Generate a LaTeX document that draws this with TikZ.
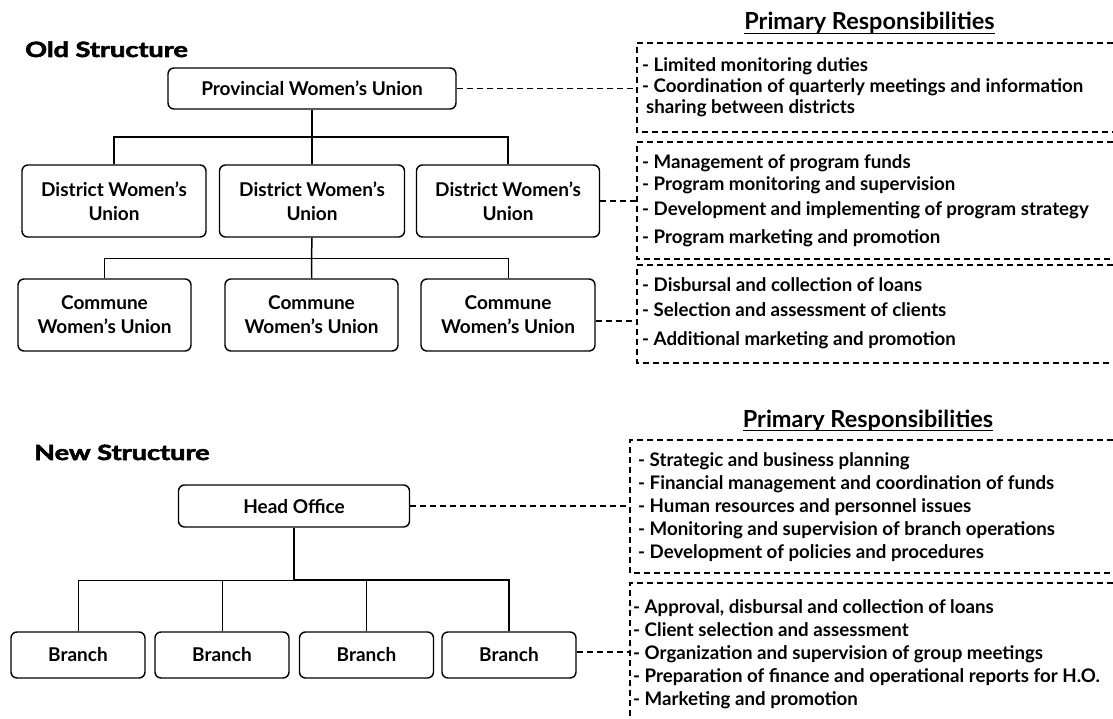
\documentclass[tikz,border=0pt]{standalone}
\usepackage{fontspec}
\setmainfont{Lato}
\newfontfamily\heavyfont{Lato}[BoldFeatures={FakeBold=2.5}]
\begin{document}
\begin{tikzpicture}[x=1pt,y=-1pt,
  orgbox/.style={draw, line width=1.4pt, rounded corners=6pt, inner sep=0pt, align=center,
    font=\fontsize{19}{24}\selectfont\bfseries},
  tree/.style={line width=1.5pt},
  thintree/.style={line width=0.9pt},
  dashlink/.style={line width=1.8pt, dash pattern=on 6pt off 4pt},
  resp/.style={anchor=base west, inner sep=0pt, font=\fontsize{18.7}{21}\selectfont\bfseries},
  heading/.style={anchor=base west, inner sep=0pt, font=\fontsize{21}{24}\heavyfont\bfseries},
  ptitle/.style={anchor=base, inner sep=0pt, font=\fontsize{23.5}{26}\selectfont\bfseries}]
\useasboundingbox (0,0) rectangle (1113,719);

% ---------------- Old structure ----------------
\node[heading] (oldh) at (25,57) {\scalebox{1.29}[1]{Old Structure}};

\node[orgbox, minimum width=288pt, minimum height=41pt] (prov) at (312,88.5) {Provincial Women’s Union};

\node[orgbox, minimum width=184pt, minimum height=72pt] (dist1) at (114,201) {District Women’s\\Union};
\node[orgbox, minimum width=185pt, minimum height=72pt] (dist2) at (312,201) {District Women’s\\Union};
\node[orgbox, minimum width=183pt, minimum height=72pt] (dist3) at (508,201) {District Women’s\\Union};

\node[orgbox, minimum width=173pt, minimum height=72pt] (com1) at (104.5,315) {Commune\\Women’s Union};
\node[orgbox, minimum width=173pt, minimum height=72pt] (com2) at (311.5,315) {Commune\\Women’s Union};
\node[orgbox, minimum width=174pt, minimum height=72pt] (com3) at (508,315) {Commune\\Women’s Union};

\coordinate (j1) at (312,137);
\draw[tree] (prov.south) -- (j1) -- (dist2.north);
\draw[tree] (dist1.north) |- (j1);
\draw[tree] (dist3.north) |- (j1);

\coordinate (j2) at (311.5,258);
\draw[tree] (dist2.south) -- (j2) -- (com2.north);
\draw[thintree] (com1.north) |- (j2);
\draw[thintree] (com3.north) |- (j2);

% responsibility title
\node[ptitle] (pr1) at (869.5,30) {Primary Responsibilities};
\draw[line width=1.5pt] ([yshift=-3.5pt]pr1.base west) -- ([yshift=-3.5pt]pr1.base east);

% dashed frames
\draw[dashlink] (1113,43) -- (637,43) -- (637,132) -- (1113,132);
\draw[dashlink] (1113,142) -- (637,142) -- (637,259) -- (1113,259);
\draw[dashlink] (1113,265) -- (637,265) -- (637,363) -- (1113,363);

\coordinate (r1w) at (637,88.5);
\coordinate (r2w) at (637,201);
\coordinate (r3w) at (637,321);
\draw[dashlink] (prov.east) -- (r1w);
\draw[dashlink] (dist3.east) -- (r2w);
\draw[dashlink] (r3w -| com3.east) -- (r3w);

\node[resp] (a1) at (642,72) {- Limited monitoring duties};
\node[resp] (a2) at (642,93) {- Coordination of quarterly meetings and information};
\node[resp] (a3) at (646,114) {sharing between districts};

\node[resp] (b1) at (642,169) {- Management of program funds};
\node[resp] (b2) at (642,191) {- Program monitoring and supervision};
\node[resp] (b3) at (642,216) {- Development and implementing of program strategy};
\node[resp] (b4) at (642,244) {- Program marketing and promotion};

\node[resp] (c1) at (642,291.5) {- Disbursal and collection of loans};
\node[resp] (c2) at (642,316) {- Selection and assessment of clients};
\node[resp] (c3) at (642,345) {- Additional marketing and promotion};

% ---------------- New structure ----------------
\node[heading] (newh) at (34,460) {\scalebox{1.29}[1]{New Structure}};

\node[orgbox, minimum width=231pt, minimum height=42pt] (head) at (294,506) {Head Office};

\node[orgbox, minimum width=134pt, minimum height=46pt] (br1) at (78,655) {Branch};
\node[orgbox, minimum width=134pt, minimum height=46pt] (br2) at (222,655) {Branch};
\node[orgbox, minimum width=134pt, minimum height=46pt] (br3) at (366.5,655) {Branch};
\node[orgbox, minimum width=134pt, minimum height=46pt] (br4) at (509,655) {Branch};

\coordinate (j3) at (294,580);
\draw[line width=2pt] (head.south) -- (j3);
\draw[thintree] (br1.north) |- (j3);
\draw[thintree] (br2.north) |- (j3);
\draw[tree] (br3.north) |- (j3);
\draw[tree] (br4.north) |- (j3);

\node[ptitle] (pr2) at (868,427) {Primary Responsibilities};
\draw[line width=1.5pt] ([yshift=-3.5pt]pr2.base west) -- ([yshift=-3.5pt]pr2.base east);

\draw[dashlink] (1113,440) -- (630,440) -- (630,573) -- (1113,573);
\draw[dashlink] (1113,583) -- (630,583) -- (630,719);

\coordinate (r4w) at (630,506);
\coordinate (r5w) at (630,652);
\draw[dashlink] (head.east) -- (r4w);
\draw[dashlink] (r5w -| br4.east) -- (r5w);

\node[resp] (d1) at (638,466) {- Strategic and business planning};
\node[resp] (d2) at (638,489) {- Financial management and coordination of funds};
\node[resp] (d3) at (638,512) {- Human resources and personnel issues};
\node[resp] (d4) at (638,535) {- Monitoring and supervision of branch operations};
\node[resp] (d5) at (638,558) {- Development of policies and procedures};

\node[resp] (e1) at (633,613) {- Approval, disbursal and collection of loans};
\node[resp] (e2) at (633,636) {- Client selection and assessment};
\node[resp] (e3) at (633,659) {- Organization and supervision of group meetings};
\node[resp] (e4) at (633,682) {- Preparation of finance and operational reports for H.O.};
\node[resp] (e5) at (633,705) {- Marketing and promotion};
\end{tikzpicture}
\end{document}
